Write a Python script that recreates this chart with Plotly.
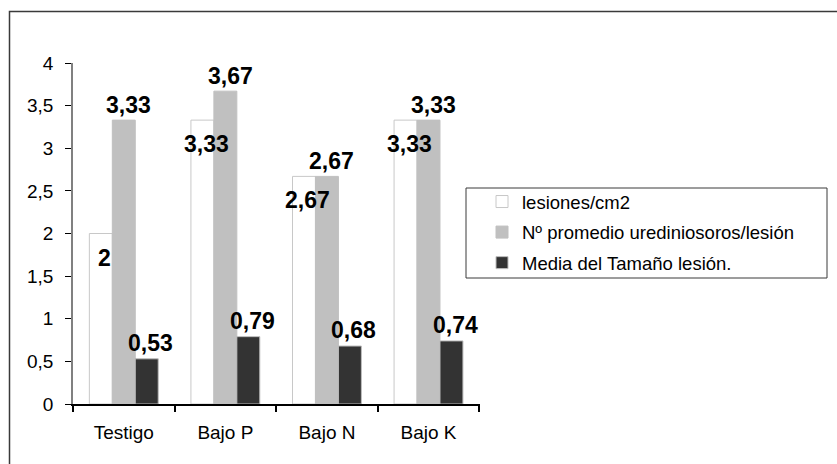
import plotly.graph_objects as go

# Data
categories = ["Testigo", "Bajo P", "Bajo N", "Bajo K"]
lesiones_cm2 = [2, 3.33, 2.67, 3.33]
uredinios_lesion = [3.33, 3.67, 2.67, 3.33]
tamano_lesion = [0.53, 0.79, 0.68, 0.74]
series_names = [
    "lesiones/cm2",
    "Nº promedio urediniosoros/lesión",
    "Media del Tamaño lesión.",
]

W, H = 837, 464
L, R, T, B = 73, 357, 63, 60
PW, PH = W - L - R, H - T - B
FONT = "Arial, Liberation Sans, sans-serif"


def px_x(p):
    return (p - L) / PW


def px_y(p):
    return (H - B - p) / PH


def fmt(v):
    return f"{v:g}".replace(".", ",")


fig = go.Figure()
series = [
    (lesiones_cm2, series_names[0], "#ffffff", "#c8c8c8"),
    (uredinios_lesion, series_names[1], "#c0c0c0", "#c0c0c0"),
    (tamano_lesion, series_names[2], "#333333", "#bdbdbd"),
]
for i, (vals, name, fill, edge) in enumerate(series):
    fig.add_trace(go.Bar(
        x=categories, y=vals, name=name, legendgroup=f"g{i}",
        marker=dict(color=fill, line=dict(color=edge, width=1)),
    ))

# Value labels: first series inside below the top, others above the bar
bar_w = PW / len(categories) * (1 - 0.322) / 3
label_cfg = [
    (lesiones_cm2, -bar_w + 4, -24),
    (uredinios_lesion, 5, 15),
    (tamano_lesion, bar_w + 4, 16),
]
annotations = []
for vals, xs, ys in label_cfg:
    for c, v in zip(categories, vals):
        annotations.append(dict(
            x=c, y=v, xref="x", yref="y", text=fmt(v), showarrow=False,
            xshift=xs, yshift=ys, yanchor="middle", xanchor="center",
            font=dict(family=FONT, size=23, color="#000000", weight="bold"),
        ))

shapes = [
    # outer chart frame
    dict(type="rect", xref="paper", yref="paper",
         x0=px_x(9.5), x1=px_x(845), y0=px_y(470), y1=px_y(11.5),
         line=dict(color="#3a3a3a", width=1.5), fillcolor="rgba(0,0,0,0)",
         layer="below"),
    # legend frame
    dict(type="rect", xref="paper", yref="paper",
         x0=px_x(466), x1=px_x(827), y0=px_y(278), y1=px_y(188),
         line=dict(color="#3a3a3a", width=1), fillcolor="rgba(0,0,0,0)"),
]

fig.update_layout(
    width=W, height=H,
    margin=dict(l=L, r=R, t=T, b=B, pad=0),
    paper_bgcolor="white", plot_bgcolor="white",
    separators=",.",
    barmode="group", bargap=0.322, bargroupgap=0,
    font=dict(family=FONT, size=19, color="#000000"),
    showlegend=True,
    legend=dict(
        x=px_x(482), y=px_y(183), xanchor="left", yanchor="top",
        bgcolor="rgba(0,0,0,0)", borderwidth=0,
        font=dict(family=FONT, size=18.5, color="#000000"),
        traceorder="grouped", itemwidth=30, tracegroupgap=3.5,
    ),
    xaxis=dict(
        type="category", showgrid=False, zeroline=False,
        showline=True, linecolor="#000000", linewidth=1.5,
        ticks="outside", ticklen=6, tickcolor="#000000", tickwidth=1.5,
        tickson="boundaries", ticklabelstandoff=10,
        tickfont=dict(family=FONT, size=19, color="#000000"),
    ),
    yaxis=dict(
        range=[0, 4], dtick=0.5, tick0=0, showgrid=False, zeroline=False,
        showline=True, linecolor="#808080", linewidth=1.5,
        ticks="outside", ticklen=6, tickcolor="#000000", tickwidth=1,
        ticklabelstandoff=8,
        tickfont=dict(family=FONT, size=19, color="#000000"),
    ),
    annotations=annotations,
    shapes=shapes,
)

fig.write_html("out.html")
